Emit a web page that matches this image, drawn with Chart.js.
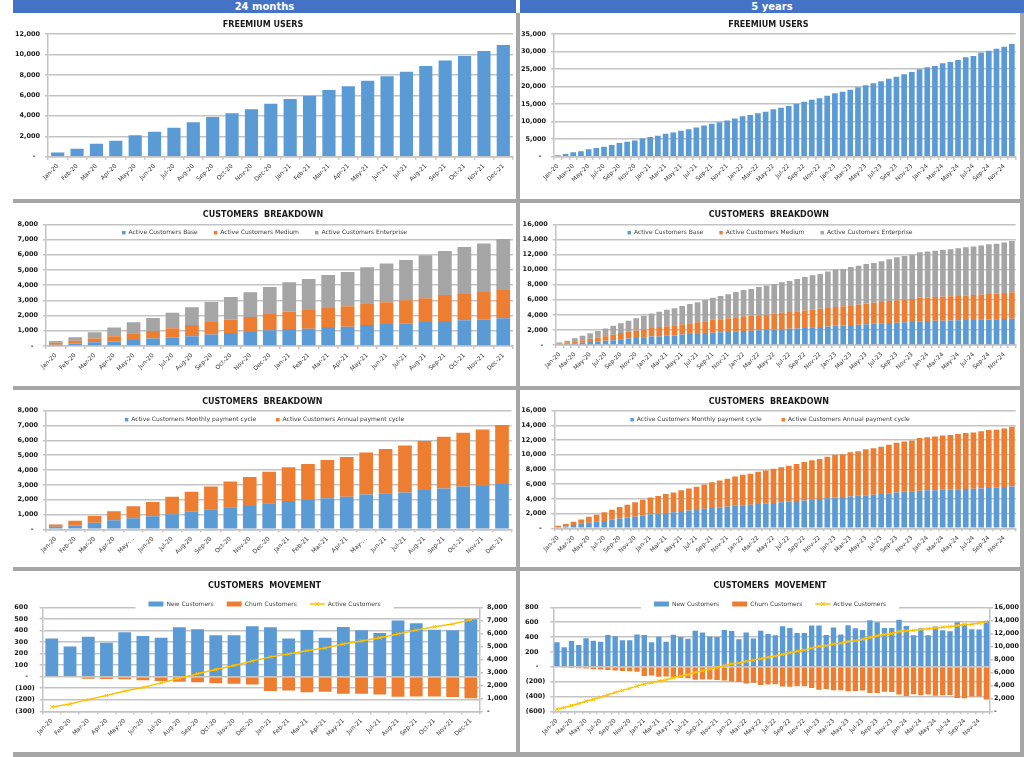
<!DOCTYPE html>
<html>
<head>
<meta charset="utf-8">
<script src="https://cdn.jsdelivr.net/npm/chart.js@4.4.0/dist/chart.umd.min.js"></script>
<style>
  body { margin: 0; background: #fff; width: 1024px; height: 757px; overflow: hidden; position: relative; font-family: "DejaVu Sans", Verdana, sans-serif; }
  #frame { position: absolute; left: 13px; top: 13px; width: 1011px; height: 744px; background: #a6a6a6; }
  .head { position: absolute; top: 0; height: 13px; background: #4472c4; color: #fff; font-weight: bold; font-size: 10px; line-height: 13px; text-align: center; }
  .panel { position: absolute; background: #fff; }
  .panel canvas { display: block; }
</style>
</head>
<body>
<div id="frame"></div>
<div class="head" style="left:13px;width:503px">24 months</div>
<div class="head" style="left:520px;width:504px">5 years</div>

<script>
// categories
const months24 = ['Jan-20','Feb-20','Mar-20','Apr-20','May-20','Jun-20','Jul-20','Aug-20','Sep-20','Oct-20','Nov-20','Dec-20',
                  'Jan-21','Feb-21','Mar-21','Apr-21','May-21','Jun-21','Jul-21','Aug-21','Sep-21','Oct-21','Nov-21','Dec-21'];
const months24short = ['Jan-20','Feb-20','Mar-20','Apr-20','May-…','Jun-20','Jul-20','Aug-20','Sep-20','Oct-20','Nov-20','Dec-20',
                       'Jan-21','Feb-21','Mar-21','Apr-21','May-…','Jun-21','Jul-21','Aug-21','Sep-21','Oct-21','Nov-21','Dec-21'];
const months60 = [...months24,
                  'Jan-22','Feb-22','Mar-22','Apr-22','May-22','Jun-22','Jul-22','Aug-22','Sep-22','Oct-22','Nov-22','Dec-22',
                  'Jan-23','Feb-23','Mar-23','Apr-23','May-23','Jun-23','Jul-23','Aug-23','Sep-23','Oct-23','Nov-23','Dec-23',
                  'Jan-24','Feb-24','Mar-24','Apr-24','May-24','Jun-24','Jul-24','Aug-24','Sep-24','Oct-24','Nov-24','Dec-24'];

// freemium users
const freemium24m = [420,780,1270,1570,2090,2450,2840,3360,3880,4240,4630,5180,5640,5970,6520,6880,7430,7860,8310,8870,9420,9850,10340,10920];
const freemium5y = [...freemium24m, 11510,11890,12360,12840,13510,13980,14460,15120,15690,16260,16640,17400,18070,18550,19120,19780,20350,20920,
                    21500,22260,22830,23490,24160,24920,25490,25870,26630,27010,27580,28340,28720,29670,30250,30820,31390,32150];

// customers by plan
const base24m = [90,150,240,290,400,500,550,640,750,860,920,1030,1120,1140,1250,1270,1380,1450,1460,1580,1640,1690,1730,1820];
const medium24m = [130,200,260,350,430,490,610,740,830,890,990,1070,1140,1230,1250,1340,1380,1420,1540,1560,1720,1730,1820,1860];
const enterprise24m = [110,220,400,570,730,850,1030,1160,1310,1470,1620,1780,1930,2040,2170,2260,2420,2550,2660,2820,2890,3090,3180,3360];
const base5y = [...base24m, 1870,1900,1940,1990,2050,2100,2160,2200,2270,2350,2400,2460,2550,2600,2650,2700,2760,2820,
                2870,2920,2960,3000,3060,3140,3180,3200,3230,3250,3280,3300,3330,3360,3390,3420,3450,3480];
const medium5y = [...medium24m, 1930,1970,2010,2030,2100,2180,2220,2270,2310,2330,2400,2440,2500,2550,2610,2650,2740,2780,
                  2830,2900,2970,3020,3040,3110,3120,3150,3170,3200,3220,3260,3290,3320,3360,3400,3450,3500];
const enterprise5y = [...enterprise24m, 3500,3560,3750,3860,3950,4040,4120,4290,4450,4570,4620,4830,4950,4940,5090,5140,5250,5280,
                      5400,5550,5710,5790,5850,6050,6090,6130,6210,6250,6330,6400,6430,6510,6610,6590,6680,6820];

// customers by payment cycle
const monthly24m = [180,250,450,610,740,880,1010,1190,1350,1480,1570,1750,1910,1980,2090,2200,2340,2430,2490,2650,2760,2880,2920,3060];
const annual24m = [150,320,450,600,820,960,1180,1350,1540,1740,1960,2130,2280,2430,2580,2670,2840,2990,3170,3310,3490,3630,3810,3980];
const monthly5y = [...monthly24m, 3150,3220,3300,3380,3450,3530,3600,3700,3780,3880,3980,4080,4180,4250,4330,4420,4500,4580,
                   4650,4780,4880,4960,5030,5120,5160,5190,5230,5260,5300,5340,5370,5420,5480,5540,5610,5700];
const annual5y = [...annual24m, 4150,4210,4400,4500,4650,4790,4900,5060,5250,5370,5440,5650,5820,5840,6020,6070,6250,6300,
                  6450,6590,6760,6850,6920,7180,7230,7290,7380,7440,7530,7620,7680,7770,7880,7870,7970,8100];

// customers movement
const newCust24m = [331,262,346,293,384,352,337,427,410,358,358,436,427,331,404,337,430,401,378,486,462,407,401,497];
const churn24m = [0,-7,-17,-20,-23,-32,-38,-44,-49,-58,-61,-67,-125,-119,-134,-131,-148,-148,-154,-174,-171,-171,-177,-186];
const active24m = [330,570,900,1210,1560,1840,2190,2540,2890,3220,3530,3880,4190,4410,4670,4870,5180,5420,5660,5960,6250,6510,6730,7040];
const newCust5y = [...newCust24m, 483,371,461,380,487,443,425,546,523,456,456,555,555,429,528,434,559,519,
                   496,626,599,523,523,635,550,425,519,425,541,492,479,599,581,505,501,613];
const churn5y = [...churn24m, -200,-205,-225,-215,-245,-240,-235,-265,-270,-262,-262,-285,-310,-300,-315,-315,-330,-325,
                 -320,-355,-355,-335,-340,-375,-395,-370,-385,-375,-390,-385,-380,-420,-425,-400,-400,-440];
const active5y = [...active24m, 7300,7430,7700,7880,8100,8320,8500,8760,9030,9250,9420,9730,10000,10090,10350,10490,10750,10880,
                  11100,11370,11640,11810,11950,12300,12390,12480,12610,12700,12830,12960,13050,13190,13360,13410,13580,13800];

const FONT = '"DejaVu Sans", Verdana, sans-serif';
const BLUE = '#5b9bd5', ORANGE = '#ed7d31', GREY = '#a5a5a5', YELLOW = '#ffc000';
const GRID = '#c3c3c3';

function fmt(v) {
  if (v === 0) return '-  ';
  return v.toLocaleString('en-US');
}
function fmtAcc(v) {
  if (v === 0) return '-   ';
  const s = Math.abs(v).toLocaleString('en-US');
  return v < 0 ? '(' + s + ')' : s + '   ';
}

// legend drawn inside the plot, on a white box over the gridlines
const boxLegend = {
  id: 'boxLegend',
  beforeDatasetsDraw(chart, args, opts) {
    if (!opts || !opts.y) return;
    const ctx = chart.ctx;
    const sets = chart.data.datasets;
    ctx.save();
    ctx.font = '6px ' + FONT;
    const sw = opts.symbolWidth, gap = 3;
    const widths = sets.map(d => sw + gap + ctx.measureText(d.label).width);
    const total = widths.reduce((a, b) => a + b, 0) + opts.spacing * (sets.length - 1);
    let x = chart.width / 2 - total / 2;
    const y = opts.y;
    ctx.fillStyle = '#fff';
    ctx.fillRect(x - opts.margin, y - 5, total + 2 * opts.margin, 10);
    sets.forEach((d, i) => {
      if (d.type === 'line') {
        ctx.strokeStyle = d.borderColor;
        ctx.lineWidth = 1.5;
        ctx.beginPath(); ctx.moveTo(x, y); ctx.lineTo(x + sw, y); ctx.stroke();
        const cx = x + sw / 2;
        ctx.lineWidth = 1;
        ctx.beginPath();
        ctx.moveTo(cx - 2, y - 2); ctx.lineTo(cx + 2, y + 2);
        ctx.moveTo(cx + 2, y - 2); ctx.lineTo(cx - 2, y + 2);
        ctx.stroke();
      } else {
        ctx.fillStyle = d.backgroundColor;
        ctx.fillRect(x, y - opts.symbolHeight / 2, sw, opts.symbolHeight);
      }
      ctx.fillStyle = '#404040';
      ctx.textBaseline = 'middle';
      ctx.textAlign = 'left';
      ctx.fillText(d.label, x + sw + gap, y);
      x += widths[i] + opts.spacing;
    });
    ctx.restore();
  }
};

function makePanel(x, y, w, h) {
  const div = document.createElement('div');
  div.className = 'panel';
  div.style.cssText = `left:${x}px;top:${y}px;width:${w}px;height:${h}px`;
  const cv = document.createElement('canvas');
  cv.width = w; cv.height = h;
  div.appendChild(cv);
  document.body.appendChild(div);
  return cv;
}

function xAxis(labels, height, everyOther, stacked) {
  return {
    stacked: stacked,
    ticks: {
      autoSkip: false, maxRotation: 45, minRotation: 45, padding: 3, color: '#333',
      font: { family: FONT, size: 6 },
      callback: (v, i) => (everyOther && i % 2) ? '' : labels[i]
    },
    grid: { drawOnChartArea: false, color: GRID, lineWidth: 1.5, tickLength: 3, offset: true },
    border: { color: GRID, width: 1.5 },
    afterFit: s => { s.height = height; }
  };
}

function yAxis(min, max, step, width, stacked, formatter) {
  return {
    stacked: stacked, min: min, max: max,
    ticks: { stepSize: step, padding: 5, color: '#1a1a1a', font: { family: FONT, size: 6.5, weight: 'bold' }, callback: formatter || fmt },
    grid: { color: GRID, lineWidth: 1.5, tickLength: 3 },
    border: { color: GRID, width: 1.5 },
    afterFit: s => { s.width = width; }
  };
}

function titleOpts(text, top, bottom) {
  return { display: true, text: text, color: '#1a1a1a', font: { family: FONT, size: 8, weight: 'bold' }, padding: { top: top, bottom: bottom } };
}

function common(o) {
  return {
    responsive: false, animation: false,
    layout: { padding: { left: 0, right: o.padRight, top: 0, bottom: 0 } },
    plugins: {
      legend: { display: false },
      tooltip: { enabled: false },
      title: titleOpts(o.title, o.tTop, o.tBottom),
      boxLegend: o.legend || {}
    },
    scales: o.scales
  };
}

// row 1: freemium users
function freemiumChart(cv, labels, data, everyOther, yMax, yStep, yWidth, padRight, barPct) {
  new Chart(cv, {
    type: 'bar',
    data: { labels: labels, datasets: [{ label: 'Freemium Users', data: data, backgroundColor: BLUE, categoryPercentage: 0.8, barPercentage: barPct }] },
    options: common({
      title: 'FREEMIUM USERS', tTop: 6.9, tBottom: 4.5, padRight: padRight,
      scales: { x: xAxis(labels, 42.3, everyOther, false), y: yAxis(0, yMax, yStep, yWidth, false) }
    }),
    plugins: [boxLegend]
  });
}
freemiumChart(makePanel(13, 13, 503, 186), months24, freemium24m, false, 12000, 2000, 35, 3, 0.85);
freemiumChart(makePanel(520, 13, 500, 186), months60, freemium5y, true, 35000, 5000, 34, 3.3, 0.92);

// row 2: base / medium / enterprise
function planChart(cv, labels, b, m, e, everyOther, yMax, yWidth, padRight, xHeight, barPct) {
  new Chart(cv, {
    type: 'bar',
    data: {
      labels: labels,
      datasets: [
        { label: 'Active Customers Base', data: b, backgroundColor: BLUE, categoryPercentage: 0.8, barPercentage: barPct },
        { label: 'Active Customers Medium', data: m, backgroundColor: ORANGE, categoryPercentage: 0.8, barPercentage: barPct },
        { label: 'Active Customers Enterprise', data: e, backgroundColor: GREY, categoryPercentage: 0.8, barPercentage: barPct }
      ]
    },
    options: common({
      title: 'CUSTOMERS  BREAKDOWN', tTop: 7.2, tBottom: 4.5, padRight: padRight,
      legend: { y: 29.7, symbolWidth: 3.5, symbolHeight: 3.5, spacing: 16, margin: 12 },
      scales: { x: xAxis(labels, xHeight, everyOther, true), y: yAxis(0, yMax, yMax / 8, yWidth, true) }
    }),
    plugins: [boxLegend]
  });
}
planChart(makePanel(13, 203, 503, 183), months24, base24m, medium24m, enterprise24m, false, 8000, 33, 3, 40, 0.88);
planChart(makePanel(520, 203, 500, 183), months60, base5y, medium5y, enterprise5y, true, 16000, 35.7, 2.3, 41, 0.92);

// row 3: monthly / annual payment cycle
function cycleChart(cv, labels, mo, an, everyOther, yMax, yWidth, padRight, xHeight, barPct) {
  new Chart(cv, {
    type: 'bar',
    data: {
      labels: labels,
      datasets: [
        { label: 'Active Customers Monthly payment cycle', data: mo, backgroundColor: BLUE, categoryPercentage: 0.8, barPercentage: barPct },
        { label: 'Active Customers Annual payment cycle', data: an, backgroundColor: ORANGE, categoryPercentage: 0.8, barPercentage: barPct }
      ]
    },
    options: common({
      title: 'CUSTOMERS  BREAKDOWN', tTop: 7.5, tBottom: 3.6, padRight: padRight,
      legend: { y: 29.7, symbolWidth: 3.5, symbolHeight: 3.5, spacing: 20, margin: 17 },
      scales: { x: xAxis(labels, xHeight, everyOther, true), y: yAxis(0, yMax, yMax / 8, yWidth, true) }
    }),
    plugins: [boxLegend]
  });
}
cycleChart(makePanel(13, 390, 503, 177), months24short, monthly24m, annual24m, false, 8000, 33, 4.3, 37.7, 0.88);
cycleChart(makePanel(520, 390, 500, 177), months60, monthly5y, annual5y, true, 16000, 34.3, 2.3, 38.7, 0.92);

// row 4: new / churn bars and active customers line
function movementChart(cv, labels, nw, ch, act, everyOther, yMin, yMax, yStep, yWidth, y1Max, y1Step, y1Width, y1Pad, barPct) {
  const y1 = yAxis(0, y1Max, y1Step, y1Width, false);
  y1.position = 'right';
  y1.grid = { drawOnChartArea: false, color: GRID, lineWidth: 1.5, tickLength: 3 };
  y1.ticks.padding = y1Pad;
  new Chart(cv, {
    type: 'bar',
    data: {
      labels: labels,
      datasets: [
        { type: 'bar', label: 'New Customers', data: nw, backgroundColor: BLUE, yAxisID: 'y', order: 2, categoryPercentage: 0.8, barPercentage: barPct },
        { type: 'bar', label: 'Churn Customers', data: ch, backgroundColor: ORANGE, yAxisID: 'y', order: 2, categoryPercentage: 0.8, barPercentage: barPct },
        { type: 'line', label: 'Active Customers', data: act, yAxisID: 'y1', order: 1, borderColor: YELLOW, borderWidth: 1.5,
          pointStyle: 'crossRot', pointRadius: 2.5, pointBorderColor: YELLOW, pointBorderWidth: 1, backgroundColor: YELLOW, tension: 0 }
      ]
    },
    options: common({
      title: 'CUSTOMERS  MOVEMENT', tTop: 10.2, tBottom: 16.6, padRight: 0,
      legend: { y: 33, symbolWidth: 15, symbolHeight: 5, spacing: 13, margin: 13 },
      scales: {
        x: xAxis(labels, 40.7, everyOther, true),
        y: yAxis(yMin, yMax, yStep, yWidth, true, fmtAcc),
        y1: y1
      }
    }),
    plugins: [boxLegend]
  });
}
movementChart(makePanel(13, 571, 503, 181), months24, newCust24m, churn24m, active24m, false, -300, 600, 100, 29.7, 8000, 1000, 36, 4, 0.88);
movementChart(makePanel(520, 571, 500, 181), months60, newCust5y, churn5y, active5y, true, -600, 800, 200, 33.3, 16000, 2000, 30, 1, 0.92);
</script>
</body>
</html>
